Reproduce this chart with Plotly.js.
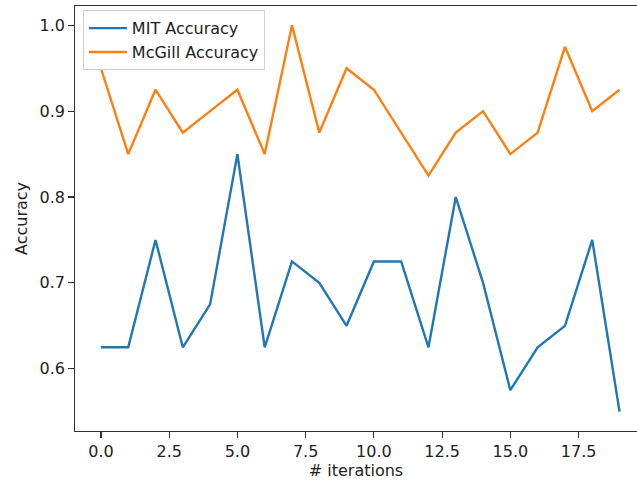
<!DOCTYPE html>
<html>
<head>
<meta charset="utf-8">
<script src="https://cdn.plot.ly/plotly-3.0.1.min.js"></script>
<style>html,body{margin:0;padding:0;background:#fff;}#chart{width:637px;height:481px;}</style>
</head>
<body>
<div id="chart"></div>
<script>
const iterations = [0,1,2,3,4,5,6,7,8,9,10,11,12,13,14,15,16,17,18,19];
const mitAccuracy = [0.625,0.625,0.75,0.625,0.675,0.85,0.625,0.725,0.70,0.65,0.725,0.725,0.625,0.80,0.70,0.575,0.625,0.65,0.75,0.55];
const mcgillAccuracy = [0.95,0.85,0.925,0.875,0.90,0.925,0.85,1.0,0.875,0.95,0.925,0.875,0.825,0.875,0.90,0.85,0.875,0.975,0.90,0.925];
const xTicks = [0,2.5,5,7.5,10,12.5,15,17.5];
const xTickLabels = ['0.0','2.5','5.0','7.5','10.0','12.5','15.0','17.5'];
const yTicks = [0.6,0.7,0.8,0.9,1.0];
const yTickLabels = ['0.6','0.7','0.8','0.9','1.0'];

const font = {family: 'DejaVu Sans', size: 16, color: '#222'};
const traces = [
  {x: iterations, y: mitAccuracy, type: 'scatter', mode: 'lines', name: 'MIT Accuracy',
   line: {color: '#1f77b4', width: 2.4}},
  {x: iterations, y: mcgillAccuracy, type: 'scatter', mode: 'lines', name: 'McGill Accuracy',
   line: {color: '#ff7f0e', width: 2.4}}
];
const layout = {
  width: 637, height: 481,
  margin: {l: 75, r: 0, t: 6, b: 50, pad: 0},
  paper_bgcolor: '#fff', plot_bgcolor: '#fff',
  font: font,
  showlegend: true,
  legend: {x: 0.014, y: 0.99, xanchor: 'left', yanchor: 'top', itemwidth: 38,
    bgcolor: 'rgba(255,255,255,0.8)', bordercolor: '#d0d0d0', borderwidth: 1,
    font: font},
  xaxis: {range: [-0.95, 19.64], tickvals: xTicks, ticktext: xTickLabels,
    showgrid: false, zeroline: false, showline: true, mirror: true,
    linecolor: '#333', linewidth: 1.2, ticks: 'outside', ticklen: 5.6, tickwidth: 1.2, tickcolor: '#333',
    tickfont: font, title: {text: '# iterations', font: font, standoff: 3}},
  yaxis: {range: [0.5275, 1.0225], tickvals: yTicks, ticktext: yTickLabels,
    showgrid: false, zeroline: false, showline: true, mirror: false,
    linecolor: '#333', linewidth: 1.2, ticks: 'outside', ticklen: 5.6, tickwidth: 1.2, tickcolor: '#333',
    tickfont: font, title: {text: 'Accuracy', font: font, standoff: 8}}
};
Plotly.newPlot('chart', traces, layout, {displayModeBar: false, staticPlot: true});
</script>
</body>
</html>
